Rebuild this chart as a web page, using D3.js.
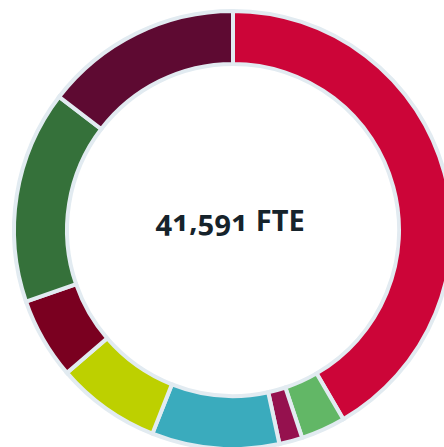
<!DOCTYPE html>
<html><head><meta charset="utf-8">
<script src="https://cdn.jsdelivr.net/npm/d3@7"></script>
<style>html,body{margin:0;padding:0;background:#fff;overflow:hidden}</style>
</head><body>
<svg id="c" width="444" height="447"></svg>
<script>
const categories = ["A","B","C","D","E","F","G","H"];
const values = [17300, 1370, 710, 3910, 3200, 2500, 6530, 6070];
const colors = ["#cc0538","#62b766","#95114e","#3aabbd","#bdd000","#7a0020","#35713a","#5e0a32"];
const totalLabel = "41,591 FTE";

const svg = d3.select("#c");
const cx = 233, cy = 230;
const g = svg.append("g").attr("transform", `translate(${cx},${cy})`);
const pie = d3.pie().sort(null).value(d => d.v);
const arc = d3.arc().innerRadius(166).outerRadius(219);
const data = categories.map((c,i) => ({c, v: values[i], col: colors[i]}));
g.selectAll("path").data(pie(data)).join("path")
  .attr("d", arc).attr("fill", d => d.data.col)
  .attr("stroke", "#e2ebf1").attr("stroke-width", 4).attr("stroke-linejoin","miter");
g.append("text").attr("x", -3).attr("y", 1).attr("text-anchor","middle")
  .attr("font-family","Noto Sans").attr("font-weight","bold").attr("font-size", 29)
  .style("font-variant-numeric","oldstyle-nums").style("font-feature-settings","'onum' 1")
  .attr("fill","#16232b").text(totalLabel);
</script>
</body></html>
